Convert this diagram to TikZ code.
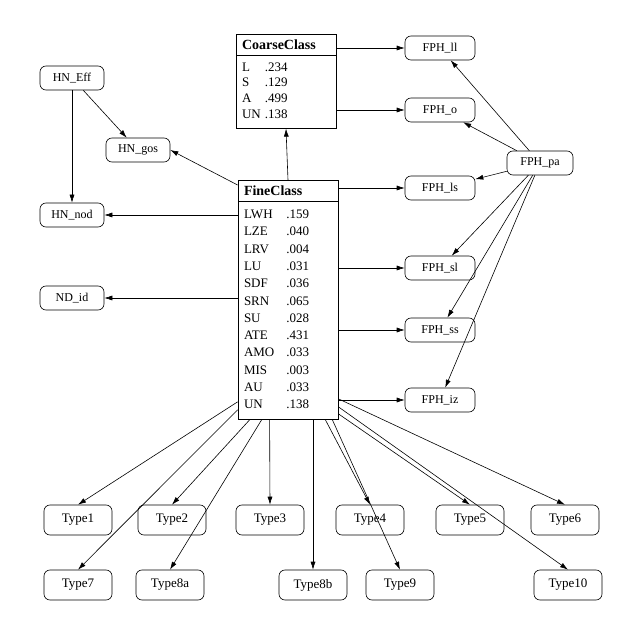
\documentclass[tikz,border=0pt]{standalone}
\usepackage{fontspec}
\setmainfont{Liberation Serif}
\usetikzlibrary{arrows.meta,shapes.multipart}
\tikzset{every path/.style={black,semithick}, >={Latex[length=8pt,width=5pt]},
  leaf/.style={draw,rounded corners=6pt,minimum width=64pt,minimum height=24pt,font=\fontsize{12}{14}\selectfont},
  tnode/.style={leaf,minimum width=68pt,minimum height=30pt,font=\fontsize{13}{15}\selectfont},
  cls/.style={draw,thick,rectangle split,rectangle split parts=2,text width=88pt,align=left,font=\fontsize{13}{15.6}\selectfont,inner xsep=6pt,inner ysep=5pt}}

\begin{document}
\begin{tikzpicture}[x=1pt,y=-1pt]
  \useasboundingbox (0,0) rectangle (640,636);
  % class tables
  \node[cls,anchor=north] (coarse) at (286,34) {\textbf{\fontsize{14}{16}\selectfont CoarseClass}\nodepart{two}\begin{tabular}{@{}l@{\hspace{4pt}}l@{}}L&.234\\S&.129\\A&.499\\UN&.138\end{tabular}};
  \node[cls,anchor=north,font=\fontsize{13}{17.3}\selectfont] (fine) at (288,180) {\textbf{\fontsize{14}{16}\selectfont FineClass}\nodepart{two}\begin{tabular}{@{}l@{\hspace{12pt}}l@{}}LWH&.159\\LZE&.040\\LRV&.004\\LU&.031\\SDF&.036\\SRN&.065\\SU&.028\\ATE&.431\\AMO&.033\\MIS&.003\\AU&.033\\UN&.138\end{tabular}};
  % left nodes
  \node[leaf] (hneff) at (72,78) {HN\_Eff};
  \node[leaf] (hngos) at (138,150) {HN\_gos};
  \node[leaf] (hnnod) at (72,215) {HN\_nod};
  \node[leaf] (ndid) at (72,298) {ND\_id};
  % right nodes
  \node[leaf,minimum width=70pt] (fphll) at (440,48) {FPH\_ll};
  \node[leaf,minimum width=70pt] (fpho) at (440,110) {FPH\_o};
  \node[leaf,minimum width=66pt] (fphpa) at (540,163) {FPH\_pa};
  \node[leaf,minimum width=70pt] (fphls) at (440,188) {FPH\_ls};
  \node[leaf,minimum width=70pt] (fphsl) at (440,268) {FPH\_sl};
  \node[leaf,minimum width=70pt] (fphss) at (440,330) {FPH\_ss};
  \node[leaf,minimum width=70pt] (fphiz) at (440,400) {FPH\_iz};
  % type nodes
  \node[tnode] (t1) at (78,520) {Type1};
  \node[tnode] (t2) at (172,520) {Type2};
  \node[tnode] (t3) at (270,520) {Type3};
  \node[tnode] (t4) at (370,520) {Type4};
  \node[tnode] (t5) at (470,520) {Type5};
  \node[tnode] (t6) at (565,520) {Type6};
  \node[tnode] (t7) at (78,585) {Type7};
  \node[tnode] (t8a) at (170,585) {Type8a};
  \node[tnode] (t8b) at (313,585) {Type8b};
  \node[tnode] (t9) at (400,585) {Type9};
  \node[tnode] (t10) at (568,585) {Type10};

  \draw[->] (coarse.east |- fphll) -- (fphll);
  \draw[->] (coarse.east |- fpho) -- (fpho);
  \draw[->] (fine.north) -- (coarse.south);
  \draw[->] ([yshift=-5pt]fine.north west) -- (hngos.east);
  \draw[->] (fine.west |- hnnod) -- (hnnod);
  \draw[->] (fine.west |- ndid) -- (ndid);
  \draw[->] (hneff) -- (hngos);
  \draw[->] (hneff) -- (hnnod);
  \foreach \t in {fphls,fphsl,fphss,fphiz}
    \draw[->] (fine.east |- \t) -- (\t);
  \foreach \t in {fphll,fpho,fphls,fphsl,fphss,fphiz}
    \draw[->] (fphpa) -- (\t);
  % types
  \draw[->] ([yshift=18pt]fine.south west) -- (t1.north);
  \draw[->] ([yshift=10pt]fine.south west) -- (t7.north);
  \draw[->] ([xshift=12pt]fine.south west) -- (t2.north);
  \draw[->] ([xshift=24pt]fine.south west) -- (t8a.north);
  \draw[->] ([xshift=32pt]fine.south west) -- (t3.north);
  \draw[->] ([xshift=25pt]fine.south) -- (t8b.north);
  \draw[->] ([xshift=-13pt]fine.south east) -- (t4.north);
  \draw[->] ([xshift=-6pt]fine.south east) -- (t9.north);
  \draw[->] ([yshift=6pt]fine.south east) -- (t5.north);
  \draw[->] ([yshift=13pt]fine.south east) -- (t10.north);
  \draw[->] ([yshift=21pt]fine.south east) -- (t6.north);
\end{tikzpicture}
\end{document}
